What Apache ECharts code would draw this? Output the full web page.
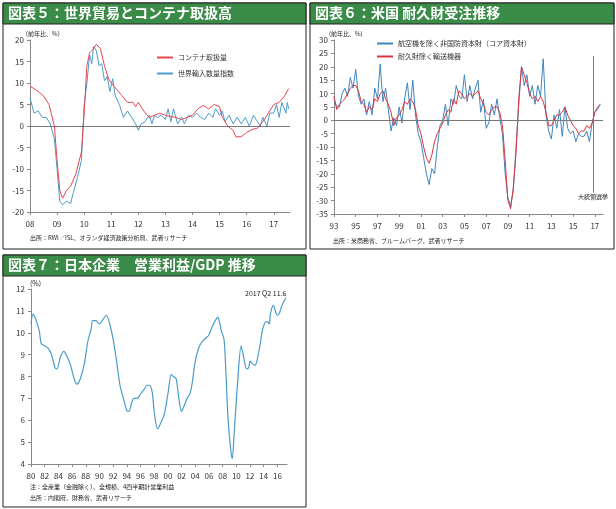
<!DOCTYPE html>
<html><head><meta charset="utf-8">
<script src="https://cdn.jsdelivr.net/npm/echarts@6/dist/echarts.min.js"></script>
<style>body{margin:0;background:#fff}#c{width:616px;height:509px}</style>
</head><body><div id="c"></div>
<script>
// Chart 5
const c5X = [2008.0,2008.3,2008.5,2008.7,2008.9,2009.0,2009.1,2009.2,2009.35,2009.5,2009.7,2009.9,2010.0,2010.1,2010.2,2010.35,2010.45,2010.6,2010.75,2010.9,2011.0,2011.2,2011.4,2011.6,2011.8,2011.9,2012.0,2012.2,2012.4,2012.6,2012.8,2013.0,2013.2,2013.4,2013.6,2013.8,2014.0,2014.2,2014.4,2014.6,2014.8,2015.0,2015.1,2015.3,2015.5,2015.6,2015.8,2016.0,2016.2,2016.4,2016.6,2016.8,2017.0,2017.2,2017.4,2017.55];
const c5Container = [9.3,8,7,5,0,-8,-15,-16.8,-15,-14,-11,-6,3,14,17,18,19,18,14,11,10,8.5,7,5.5,5.5,4.5,5.5,3.5,2,2.5,3,2.5,2.2,2,1.5,2,2.5,4,4.8,4,5,4.5,2,0,-1,-2.5,-2.5,-1.5,-0.8,-0.5,1,3,5,5.5,7,8.7];
const c5ImpX = [2008.0,2008.15,2008.3,2008.45,2008.6,2008.75,2008.9,2009.0,2009.1,2009.2,2009.35,2009.5,2009.6,2009.75,2009.9,2010.0,2010.1,2010.2,2010.28,2010.35,2010.45,2010.55,2010.65,2010.75,2010.85,2010.95,2011.05,2011.15,2011.3,2011.45,2011.6,2011.75,2011.9,2012.0,2012.1,2012.25,2012.4,2012.5,2012.6,2012.7,2012.85,2013.0,2013.1,2013.2,2013.3,2013.45,2013.6,2013.7,2013.85,2014.0,2014.15,2014.3,2014.45,2014.6,2014.75,2014.85,2015.0,2015.1,2015.2,2015.35,2015.5,2015.65,2015.8,2015.95,2016.1,2016.25,2016.35,2016.5,2016.6,2016.75,2016.85,2017.0,2017.1,2017.2,2017.3,2017.45,2017.5,2017.55];
const c5Import = [6.5,3,3.5,2,2,0.5,-3,-10,-17.5,-18.3,-17.5,-18,-15.5,-12,-8,5,10,16.5,14.5,18.5,17.5,14,14.5,10.5,11.5,8,11,7,5,2,3.5,2,0.5,-1,0.5,1,2.5,0.5,2.5,2,2.5,1.5,4,1,4,0.5,2,0.5,2.5,2,3,2,1.5,3,2,4,2.5,3.5,1,2.5,0.5,2,0.5,2,0,2.5,1.5,0,2,0,3,3,5,2,5.5,3,5.5,4];
// Chart 6 (quarterly from 1993.0)
const c6Start = 1993;
const c6Core = [8,5,5,10, 12,9,16,12, 19,9,6,8, 2,7,2,12, 8,21,7,12, 4,-4,1,-2, 5,-1,8,14, 4,15,2,-5, -8,-14,-20,-24, -18,-20,-10,-2, 0,6,-2,8, 6,13,9,8, 17,7,13,8, 12,15,3,8, -3,-1,6,2, 8,1,-5,-20, -29,-32,-26,-10, 6,20,13,17, 9,13,6,13, 9,23,2,-4, -7,2,-3,4, -6,5,-3,-5, -4,-8,-5,-6, -6,-4,-8,-1, 3,4,6];
const c6ExTrans = [9,4,6,7, 8,10,12,13, 13,11,7,6, 3,5,4,8, 7,10,11,8, 6,3,-2,1, 2,4,7,6, 8,7,4,-2, -5,-10,-14,-16, -13,-8,-5,-3, -1,2,4,3, 8,6,11,10, 8,9,10,9, 10,11,8,6, 3,2,4,5, 5,3,-2,-15, -30,-33,-25,-12, 8,20,17,14, 10,8,9,7, 9,7,3,-2, -2,0,2,2, 3,5,2,0, -2,-3,-5,-4, -4,-2,-3,-1, 3,5,6];
// Chart 7
const c7X = [1980,1980.3,1980.7,1981.2,1981.5,1982,1982.5,1983,1983.5,1983.8,1984.3,1984.8,1985.3,1985.8,1986.3,1986.7,1987.2,1987.8,1988.3,1988.8,1989,1989.5,1990,1990.5,1991,1991.5,1992,1992.5,1993,1993.5,1994,1994.3,1994.7,1995,1995.5,1996,1996.5,1997,1997.3,1997.7,1998,1998.5,1999,1999.5,2000,2000.5,2000.8,2001.2,2001.6,2002,2002.3,2002.8,2003.2,2003.5,2004,2004.5,2005,2005.5,2006,2006.5,2007,2007.3,2007.6,2007.8,2008.2,2008.5,2008.8,2009.2,2009.4,2009.7,2010.2,2010.7,2011,2011.5,2011.8,2012,2012.3,2012.7,2013,2013.5,2013.8,2014.3,2014.6,2014.8,2015,2015.4,2015.7,2016,2016.3,2016.6,2016.9,2017.25];
const c7Profit = [10.4,10.85,10.6,10.1,9.5,9.4,9.3,9.0,8.4,8.35,8.9,9.15,8.9,8.5,7.9,7.65,7.9,8.6,9.6,10.2,10.55,10.55,10.4,10.6,10.8,10.4,9.7,8.7,7.6,7.0,6.45,6.4,6.8,7.0,7.0,7.2,7.4,7.6,7.6,7.3,6.4,5.6,5.9,6.3,7.2,8.1,8.0,7.9,7.0,6.4,6.6,7.0,7.2,7.6,8.7,9.3,9.6,9.75,9.9,10.3,10.6,10.7,10.4,10.1,9.7,8.0,6.0,4.6,4.25,5.5,7.8,9.4,9.0,8.35,8.4,8.7,8.6,8.5,8.7,9.5,10.1,10.5,10.5,10.4,10.9,11.25,11.0,10.8,10.9,11.2,11.4,11.6];

const RED='#e8474e', BLUE='#4a9bc9', GREEN='#3a8a48';
const zip=(xs,ys)=>xs.map((x,i)=>[x,ys[i]]);
const q=(start,ys)=>ys.map((y,i)=>[start+i*0.25,y]);
const f='"Noto Sans CJK JP", sans-serif';
const axLbl={fontSize:8,color:'#333',fontFamily:f};
const yr2=v=>String(v%100).padStart(2,'0');

function xAx(i,min,max,interval){return {gridIndex:i,type:'value',min:min,max:max,interval:interval,
 axisLine:{onZero:false,lineStyle:{color:'#888'}},axisTick:{show:true,inside:false,length:3,lineStyle:{color:'#888'}},
 splitLine:{show:false},axisLabel:Object.assign({formatter:yr2,showMaxLabel:false},axLbl)};}
function yAx(i,min,max,interval){return {gridIndex:i,type:'value',min:min,max:max,interval:interval,
 axisLine:{show:true,lineStyle:{color:'#888'}},axisTick:{show:true,length:3,lineStyle:{color:'#888'}},
 splitLine:{show:false},axisLabel:Object.assign({margin:6},axLbl)};}

const txt=(x,y,s,o)=>({type:'text',left:x,top:y,style:Object.assign({text:s,fill:'#222',font:'7px '+f},o||{})});
const panel=(x,y,w,h)=>({type:'rect',shape:{x:x,y:y,width:w,height:h},style:{fill:'none',stroke:'#222',lineWidth:1}});
const bar=(x,y,w,s)=>[{type:'rect',shape:{x:x,y:y,width:w,height:21},style:{fill:GREEN,stroke:'#222',lineWidth:1}},
 {type:'text',left:x+5,top:y+3,style:{text:s,fill:'#fff',font:'bold 14px '+f}}];

const chart=echarts.init(document.getElementById('c'));
chart.setOption({
 animation:false,
 grid:[{left:30,top:40,width:260,height:172},{left:334,top:40,width:269,height:174},{left:31,top:289,width:256,height:175}],
 xAxis:[xAx(0,2008,2017.6,1),xAx(1,1993,2017.75,2),xAx(2,1980,2017.4,2)],
 yAxis:[yAx(0,-20,20,5),yAx(1,-35,30,5),yAx(2,4,12,1)],
 legend:[{left:152,top:49,orient:'vertical',itemGap:9,itemWidth:16,itemHeight:2,icon:'rect',data:['コンテナ取扱量','世界輸入数量指数'],textStyle:{fontSize:7,fontFamily:f,color:'#333'}},
   {left:372,top:35,orient:'vertical',itemGap:6,itemWidth:16,itemHeight:2,icon:'rect',data:['航空機を除く非国防資本財（コア資本財）','耐久財除く輸送機器'],textStyle:{fontSize:7,fontFamily:f,color:'#333'}}],
 series:[
  {name:'世界輸入数量指数',type:'line',xAxisIndex:0,yAxisIndex:0,data:zip(c5ImpX,c5Import),showSymbol:false,lineStyle:{color:BLUE,width:1},itemStyle:{color:BLUE},
   markLine:{silent:true,symbol:'none',label:{show:false},lineStyle:{color:'#555',type:'solid',width:0.8},data:[{yAxis:0}]}},
  {name:'コンテナ取扱量',type:'line',xAxisIndex:0,yAxisIndex:0,data:zip(c5X,c5Container),showSymbol:false,lineStyle:{color:RED,width:1},itemStyle:{color:RED}},
  {name:'航空機を除く非国防資本財（コア資本財）',type:'line',xAxisIndex:1,yAxisIndex:1,data:q(c6Start,c6Core),showSymbol:false,lineStyle:{color:'#3f86c0',width:1},itemStyle:{color:'#3f86c0'},
   markLine:{silent:true,symbol:'none',label:{show:false},lineStyle:{color:'#777',type:'solid',width:1},data:[{yAxis:0},[{coord:[2016.85,-27]},{coord:[2016.85,24]}]]}},
  {name:'耐久財除く輸送機器',type:'line',xAxisIndex:1,yAxisIndex:1,data:q(c6Start,c6ExTrans),showSymbol:false,lineStyle:{color:'#d9343f',width:1},itemStyle:{color:'#d9343f'}},
  {name:'営業利益/GDP',type:'line',xAxisIndex:2,yAxisIndex:2,data:zip(c7X,c7Profit),showSymbol:false,smooth:0.3,lineStyle:{color:BLUE,width:1.2}}
 ],
 graphic:[
  panel(3,3,303,246),panel(310,3,304,246),panel(3,255,303,252),
  ...bar(3,3,303,'図表５：世界貿易とコンテナ取扱高'),
  ...bar(310,3,304,'図表６：米国 耐久財受注推移'),
  ...bar(3,255,303,'図表７：日本企業　営業利益/GDP 推移'),
  txt(22,31,'（前年比、%）',{font:'6px '+f}),
  txt(329,31,'(前年比、%)',{font:'6px '+f}),
  txt(30,280,'(%)',{font:'7px '+f}),
  txt(30,235,'出所：RWI／ISL、オランダ経済政策分析局、武者リサーチ',{font:'6px '+f}),
  txt(333,238,'出所：米商務省、ブルームバーグ、武者リサーチ',{font:'6px '+f}),
  txt(578,194,'大統領選挙',{font:'6px '+f}),
  txt(245,290,'2017 Q2 11.6',{font:'7px '+f}),
  txt(30,484,'注：全産業（金融除く）、全規模、4四半期計営業利益',{font:'6px '+f}),
  txt(30,495,'出所：内閣府、財務省、武者リサーチ',{font:'6px '+f})
 ]
});
</script></body></html>
